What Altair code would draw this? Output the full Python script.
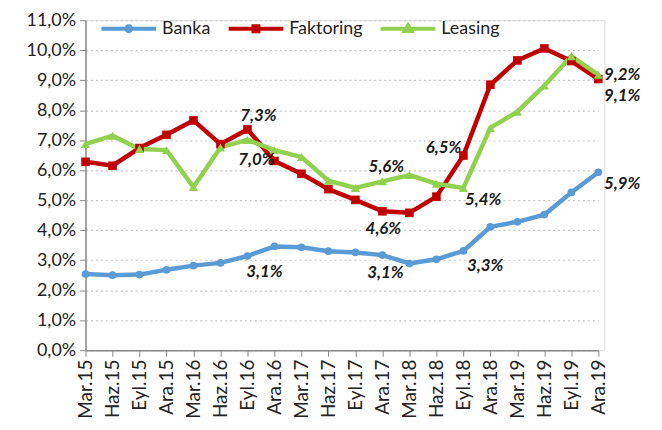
import altair as alt
import pandas as pd

quarters = ["Mar.15", "Haz.15", "Eyl.15", "Ara.15", "Mar.16", "Haz.16", "Eyl.16", "Ara.16",
            "Mar.17", "Haz.17", "Eyl.17", "Ara.17", "Mar.18", "Haz.18", "Eyl.18", "Ara.18",
            "Mar.19", "Haz.19", "Eyl.19", "Ara.19"]
banka = [2.54, 2.50, 2.52, 2.68, 2.82, 2.91, 3.14, 3.46, 3.43, 3.30, 3.26, 3.17, 2.89, 3.03,
         3.31, 4.11, 4.28, 4.52, 5.26, 5.93]
faktoring = [6.28, 6.15, 6.74, 7.18, 7.66, 6.87, 7.36, 6.31, 5.88, 5.37, 5.01, 4.63, 4.58, 5.12,
             6.49, 8.85, 9.66, 10.06, 9.64, 9.04]
leasing = [6.87, 7.15, 6.71, 6.67, 5.44, 6.76, 7.01, 6.67, 6.44, 5.65, 5.41, 5.63, 5.84, 5.55,
           5.41, 7.41, 7.95, 8.82, 9.80, 9.18]
series_names = ["Banka", "Faktoring", "Leasing"]
series_colors = ["#5B9BD5", "#C00000", "#92D050"]
series_shapes = ["circle", "square", "triangle-up"]

# data labels
lab_quarter = ["Eyl.16", "Ara.17", "Eyl.18", "Ara.19",
               "Eyl.16", "Ara.17", "Eyl.18", "Ara.19",
               "Eyl.16", "Ara.17", "Eyl.18", "Ara.19"]
lab_series = ["Banka"] * 4 + ["Faktoring"] * 4 + ["Leasing"] * 4
lab_text = ["3,1%", "3,1%", "3,3%", "5,9%",
            "7,3%", "4,6%", "6,5%", "9,1%",
            "7,0%", "5,6%", "5,4%", "9,2%"]
# label offsets (dx, dy) in pixels
lab_offsets = [(17, 16), (3, 18), (22, 15), (24, 12),
               (11, -13), (1, 18), (-20, -8), (24, 17),
               (9, 20), (4, -14), (20, 12), (24, 0)]

values = {"Banka": banka, "Faktoring": faktoring, "Leasing": leasing}
rows = []
for s in series_names:
    for q, v in zip(quarters, values[s]):
        rows.append({"quarter": q, "series": s, "value": v})
df = pd.DataFrame(rows)

FONT = "Lato"

x_enc = alt.X("quarter:O", sort=quarters, title=None,
              scale=alt.Scale(type="point", padding=0, range=[0, 516]),
              axis=alt.Axis(labelAngle=270, labelAlign="right", labelBaseline="middle",
                            labelFontSize=19, labelColor="#222222", labelFont=FONT,
                            domainColor="#888888", domainWidth=1.5, tickColor="#888888",
                            tickSize=6, labelPadding=3, grid=False))
y_enc = alt.Y("value:Q", title=None,
              scale=alt.Scale(domain=[0, 11], nice=False, zero=True),
              axis=alt.Axis(values=list(range(0, 12)),
                            labelExpr="replace(format(datum.value, '.1f'), '.', ',') + '%'",
                            labelFontSize=18, labelColor="#222222", labelFont=FONT,
                            domainColor="#888888", domainWidth=1.5, tickColor="#888888",
                            tickSize=6, labelPadding=4,
                            grid=True, gridColor="#c8c8c8", gridDash=[2, 3], gridWidth=1.2))

base = alt.Chart(df)

line_layers = []
point_layers = []
for s, col, shp in zip(series_names, series_colors, series_shapes):
    sub = base.transform_filter(alt.datum.series == s)
    line_layers.append(sub.mark_line(strokeWidth=4.5, color=col).encode(x=x_enc, y=y_enc))
    sz = 60 if shp == "circle" else (75 if shp == "square" else 85)
    point_layers.append(
        sub.mark_point(shape=shp, filled=True, size=sz, opacity=1, color=col)
        .encode(x=x_enc, y=y_enc)
    )

legend_paths = [
    "M-1,0H1M0.09,0A0.09,0.09 0 1,1 -0.09,0A0.09,0.09 0 1,1 0.09,0Z",
    "M-1,0H1M-0.09,-0.09H0.09V0.09H-0.09Z",
    "M-1,0H1M0,-0.12L0.12,0.08H-0.12Z",
]
legend_layer = base.transform_filter("false").mark_point(filled=False, opacity=1, strokeWidth=4).encode(
    x=x_enc, y=y_enc,
    color=alt.Color("series:N", scale=alt.Scale(domain=series_names, range=series_colors),
                    legend=alt.Legend(title=None, orient="none", legendX=14, legendY=-21,
                                      direction="horizontal", labelFontSize=18,
                                      labelFont=FONT, labelColor="#222222",
                                      symbolSize=3025, symbolStrokeWidth=4,
                                      columnPadding=10, labelOffset=4)),
    shape=alt.Shape("series:N", scale=alt.Scale(domain=series_names, range=legend_paths)),
)

lab_df = pd.DataFrame({"quarter": lab_quarter, "series": lab_series, "text": lab_text})
lab_values = []
for q, s in zip(lab_quarter, lab_series):
    lab_values.append(values[s][quarters.index(q)])
lab_df["value"] = lab_values

text_layers = []
for i, (dx, dy) in enumerate(lab_offsets):
    text_layers.append(
        alt.Chart(lab_df.iloc[[i]]).mark_text(
            dx=dx, dy=dy, fontSize=17, fontWeight="bold", fontStyle="italic",
            font=FONT, color="#1a1a1a", align="center", baseline="middle"
        ).encode(x=x_enc, y=y_enc, text="text:N")
    )

chart = alt.layer(*line_layers, *point_layers, legend_layer, *text_layers).properties(
    width=522, height=332,
    autosize=alt.AutoSizeParams(type="none"),
    padding={"left": 78, "top": 11, "right": 50, "bottom": 80},
).configure_view(stroke=None).configure(background="white")

chart.save("out.html", embed_options={"renderer": "svg", "actions": False})
